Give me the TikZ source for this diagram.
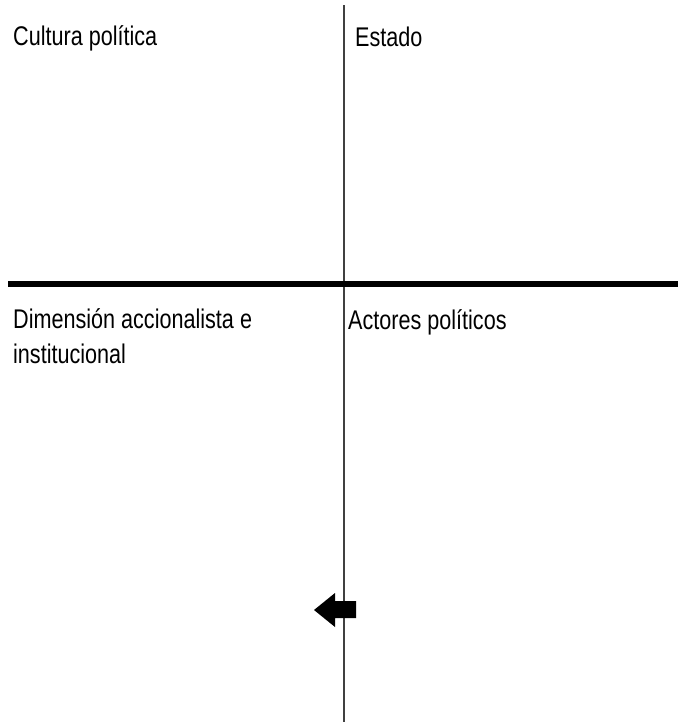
\documentclass[tikz,border=0pt]{standalone}
\usepackage{fontspec}
\setmainfont{Liberation Sans}
\usetikzlibrary{positioning}

\begin{document}
\begin{tikzpicture}[x=1pt,y=-1pt]
	\useasboundingbox (0,0) rectangle (678,724);

	% axes
	\coordinate (top) at (344,5);
	\coordinate (bottom) at (344,722);
	\coordinate (left) at (8,284);
	\coordinate (right) at (678,284);
	\draw[line width=1.3pt, black!75] (top) -- (bottom);
	\draw[line width=5.5pt, black] (left) -- (right);

	\begin{scope}[every node/.style={anchor=base west, inner sep=0pt, align=left,
	              font=\fontsize{27}{35}\selectfont, xscale=0.8, transform shape}]
		\node (cultura) at (13,45) {Cultura política};
		\node (estado) at (355,46) {Estado};
		\node (dimension) at (13,363) {Dimensión accionalista e\\institucional};
		\node (actores) at (348,329) {Actores políticos};
	\end{scope}

	% block arrow
	\fill[black] (314,610) -- (335,593) -- (335,601) -- (356,601)
	     -- (356,618) -- (335,618) -- (335,627) -- cycle;
\end{tikzpicture}
\end{document}
